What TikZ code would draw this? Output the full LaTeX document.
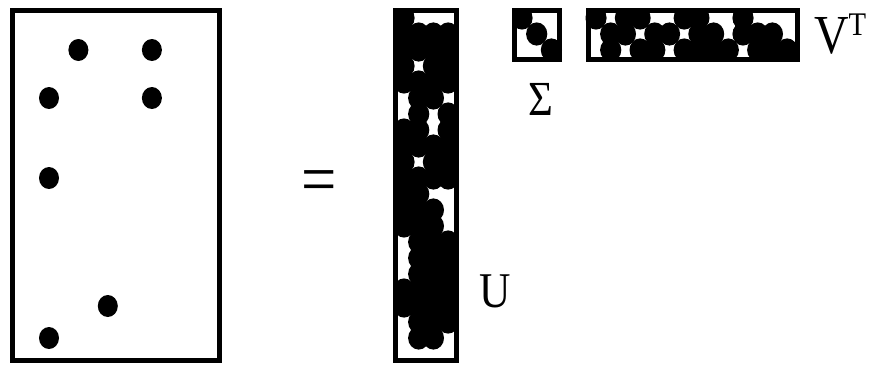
\documentclass[tikz,border=0pt]{standalone}
\usepackage{fontspec}
\setmainfont{Liberation Serif}
\begin{document}
\begin{tikzpicture}[x=1pt,y=-1pt]
  % Definir estilos
  \tikzset{
    caja/.style={draw=black, line width=5pt},
    punto/.style={fill=black},
    etiqueta/.style={inner sep=0pt, xscale=0.87}
  }
  \useasboundingbox (0,0) rectangle (869,365);

  % Matriz A (dispersa)
  \draw[caja] (12.5,10.5) rectangle (219.5,360);
  \foreach \i/\j in {4/2, 9/2, 2/5, 9/5, 2/10, 6/18, 2/20}
    \fill[punto] ({19.6+14.7*\i},{18+16*\j}) ellipse (10pt and 11pt);

  % Signo igual
  \node[etiqueta, font=\fontsize{72}{72}\selectfont] (igual) at (319,187) {=};

  % Matriz U
  \begin{scope}
    \clip (393,8) rectangle (459,363);
    \foreach \j/\cols in {0/{0}, 1/{0,1,2,3}, 2/{0,1,2,3}, 3/{0,2,3}, 4/{0,1,2,3},
        5/{1,2}, 6/{1,3}, 7/{0,1,3}, 8/{0,1,2,3}, 9/{0,2,3}, 10/{0,1,2,3},
        11/{0,1}, 12/{0,1,2}, 13/{0,1,2}, 14/{1,2,3}, 15/{1,2,3}, 16/{1,2,3},
        17/{0,1,2,3}, 18/{0,1,2,3}, 19/{1,2,3}, 20/{1,2}}
      \foreach \i in \cols
        \fill[punto] ({404+14.7*\i},{18+16*\j}) ellipse (10.6pt and 11.6pt);
  \end{scope}
  \draw[caja] (395.5,10.5) rectangle (456.5,360.5);
  \node[etiqueta, font=\fontsize{50}{50}\selectfont] (u) at (495,291.5) {U};

  % Matriz Sigma (diagonal)
  \begin{scope}
    \clip (512,8) rectangle (562,62);
    \foreach \k in {0,1,2}
      \fill[punto] ({522+14.7*\k},{18+16*\k}) ellipse (10.6pt and 11.6pt);
  \end{scope}
  \draw[caja] (514.5,10.5) rectangle (559.5,59.5);
  \node[etiqueta, font=\fontsize{49}{49}\selectfont] (sigma) at (541,99) {Σ};

  % Matriz V traspuesta
  \begin{scope}
    \clip (585.5,8) rectangle (800,62);
    \foreach \j/\cols in {0/{0,2,3,6,7,10}, 1/{1,2,4,5,7,8,10,11,12},
        2/{1,3,4,6,7,8,9,11,12,13}}
      \foreach \i in \cols
        \fill[punto] ({596+14.7*\i},{18+16*\j}) ellipse (10.6pt and 11.6pt);
  \end{scope}
  \draw[caja] (588,10.5) rectangle (797.5,59.5);
  \node[etiqueta, anchor=base west, font=\fontsize{55}{55}\selectfont] (vt) at (814,53)
    {V\raisebox{18pt}{\fontsize{33}{33}\selectfont T}};
\end{tikzpicture}
\end{document}
